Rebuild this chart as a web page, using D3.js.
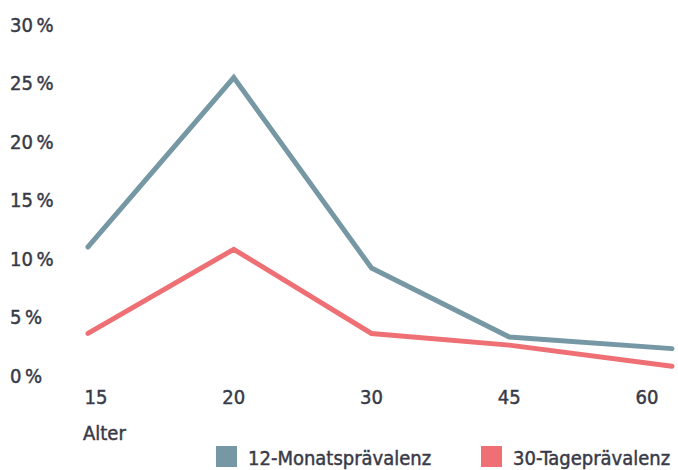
<!DOCTYPE html>
<html>
<head>
<meta charset="utf-8">
<script src="https://cdn.jsdelivr.net/npm/d3@7"></script>
<style>
  html, body { margin: 0; padding: 0; background: #fff; }
  svg { display: block; }
  text {
    font-family: "DejaVu Sans Condensed", "DejaVu Sans", sans-serif;
    font-size: 20px;
    fill: #383a47;
    stroke: #383a47;
    stroke-width: 0.45px;
  }
</style>
</head>
<body>
<svg id="chart" width="678" height="470"></svg>
<script>
// Age groups on the x axis
const ages = ["15", "20", "30", "45", "60"];
// Prevalence in percent per age group
const monthly12 = [11.0, 25.5, 9.2, 3.3, 2.3];
const days30 = [3.6, 10.8, 3.6, 2.6, 0.8];
// Y axis ticks (percent)
const yTicks = [0, 5, 10, 15, 20, 25, 30];
const seriesNames = ["12-Monatsprävalenz", "30-Tageprävalenz"];
const seriesColors = ["#7698a4", "#ee6f74"];

const svg = d3.select("#chart");
const plot = { left: 88, right: 672, top: 25, bottom: 375.5 };

const y = d3.scaleLinear().domain([0, 30]).range([plot.bottom, plot.top]);
// Tick labels sit on an evenly spaced point scale
const xLabel = d3.scalePoint().domain(ages).range([96, 647]);
// Lines run to the full width of the plot at both ends
const xLine = (d, i) => i === 0 ? plot.left : i === ages.length - 1 ? plot.right : xLabel(ages[i]);

// Y axis labels
svg.append("g").selectAll("text").data(yTicks).join("text")
  .attr("x", 10).attr("y", d => y(d))
  .attr("dy", "0.35em")
  .text(d => d + "\u2009%");

// X axis labels
svg.append("g").selectAll("text").data(ages).join("text")
  .attr("x", d => xLabel(d)).attr("y", 397)
  .attr("dy", "0.35em")
  .attr("text-anchor", "middle")
  .text(d => d);

svg.append("text").attr("x", 83).attr("y", 433).attr("dy", "0.35em").text("Alter");

// Lines
const line = d3.line().x((d, i) => xLine(d, i)).y(d => y(d));
[monthly12, days30].forEach((vals, k) => {
  svg.append("path").datum(vals)
    .attr("d", line)
    .attr("fill", "none")
    .attr("stroke", seriesColors[k])
    .attr("stroke-width", 5)
    .attr("stroke-linecap", "round")
    .attr("stroke-linejoin", "miter");
});

// Legend
const legendX = [216, 481];
const lg = svg.append("g").selectAll("g").data(seriesNames).join("g")
  .attr("transform", (d, i) => `translate(${legendX[i]},446)`);
lg.append("rect").attr("width", 21).attr("height", 21).attr("fill", (d, i) => seriesColors[i]);
lg.append("text").attr("x", 32).attr("y", 19).text(d => d);
</script>
</body>
</html>
